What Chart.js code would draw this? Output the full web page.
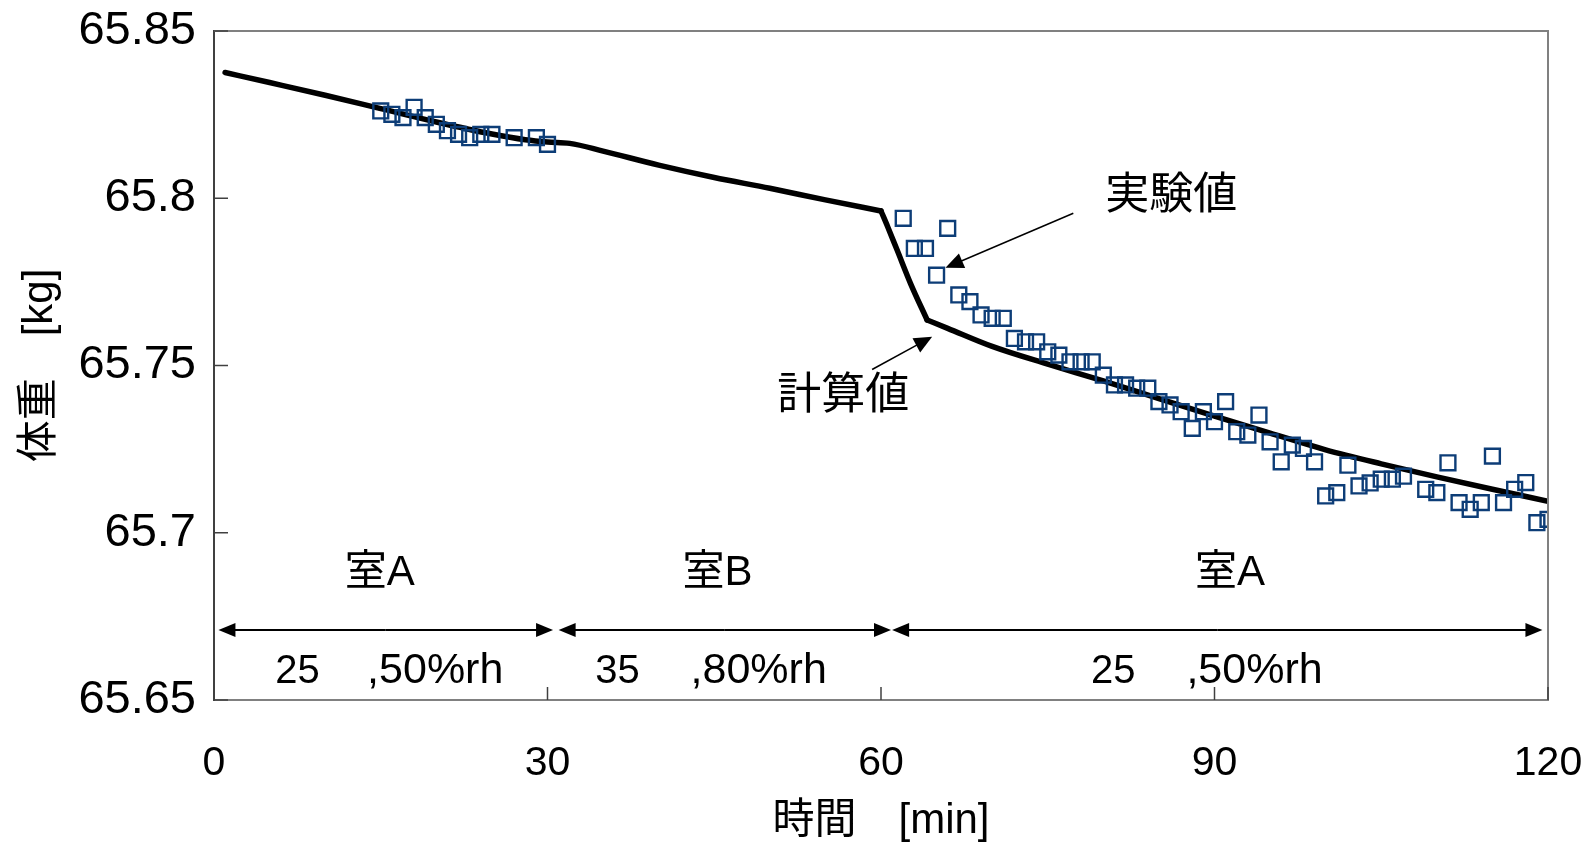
<!DOCTYPE html>
<html lang="ja">
<head>
<meta charset="utf-8">
<title>体重の変化</title>
<script src="https://cdn.jsdelivr.net/npm/chart.js@4.4.1/dist/chart.umd.min.js"></script>
<style>
  html, body { margin: 0; padding: 0; background: #fff; }
  canvas { display: block; }
</style>
</head>
<body>
<canvas id="weightChart" width="1588" height="847"></canvas>
<script>
// 計算値 (simulated body weight)
const calcTime = [1, 5, 10, 15, 20, 25, 28, 30, 32, 35, 40, 45, 50, 55, 60,
    60.6, 61.45, 62.66, 64.15, 66, 70, 75, 80, 85, 90, 95, 100, 105, 110, 115, 120];
const calcWeight = [65.8376, 65.8346, 65.8308, 65.8268, 65.8228, 65.8192, 65.8175, 65.8168, 65.8164, 65.8141,
    65.8099, 65.8062, 65.8030, 65.7995, 65.7962,
    65.7915, 65.7845, 65.7745, 65.7636, 65.7611, 65.7557, 65.7504, 65.7454, 65.7401, 65.7349,
    65.7298, 65.7248, 65.7206, 65.7167, 65.7130, 65.7094];
// the calculated curve has corners where the room changes (60 min) and where it settles (64 min)
const calcBreaks = [0, 14, 18, calcTime.length - 1];

// 実験値 (measured body weight)
const measTime = [15, 16, 17, 18, 19, 20, 21, 22, 23, 24, 25, 27, 29, 30,
    62, 63, 64, 65, 66, 67, 68, 69, 70, 71, 72, 73, 74, 75, 76, 77, 78, 79, 80,
    81, 82, 83, 84, 85, 86, 87, 88, 89, 90, 91, 92, 93, 94, 95, 96, 97, 98, 99, 100,
    101, 102, 103, 104, 105, 106, 107, 109, 110, 111, 112, 113, 114, 115, 116, 117, 118, 119, 120];
const measWeight = [65.8261, 65.8251, 65.8241, 65.8272, 65.8241, 65.8221, 65.8202, 65.8191, 65.8181, 65.8191,
    65.8191, 65.8181, 65.8181, 65.8161,
    65.7940, 65.7850, 65.7850, 65.7770, 65.7910, 65.7711, 65.7691, 65.7651, 65.7641, 65.7641,
    65.7581, 65.7571, 65.7571, 65.7541, 65.7531, 65.7511, 65.7511, 65.7511, 65.7471,
    65.7442, 65.7442, 65.7432, 65.7432, 65.7392, 65.7382, 65.7362, 65.7312, 65.7362, 65.7332,
    65.7392, 65.7302, 65.7292, 65.7352, 65.7272, 65.7212, 65.7262, 65.7252, 65.7212, 65.7110,
    65.7120, 65.7202, 65.7140, 65.7149, 65.7160, 65.7160, 65.7169, 65.7130, 65.7120, 65.7209,
    65.7090, 65.7070, 65.7090, 65.7229, 65.7090, 65.7130, 65.7150, 65.7030, 65.7040];

const xTicks = [0, 30, 60, 90, 120];
const yTicks = [65.65, 65.7, 65.75, 65.8, 65.85];

// room periods along the bottom of the plot
const roomNames = ['室A', '室B', '室A'];
const roomStart = [0.4, 31.0, 61.0];
const roomEnd = [30.5, 60.9, 119.5];
const condTemp = ['25', '35', '25'];
const condHum = [',50%rh', ',80%rh', ',50%rh'];

// label / arrow placement in data units
const roomLabelPos = { x: [14.9, 45.3, 91.4], y: 65.6877 };
const rangeArrowY = 65.6709;
const condPos = { temp: [7.5, 36.3, 80.9], hum: [19.9, 49.0, 93.6], y: 65.6585 };
const callouts = [
    { text: '実験値', tx: 86.1, ty: 65.8005, from: [77.3, 65.7955], to: [65.8, 65.7792] },
    { text: '計算値', tx: 56.6, ty: 65.7407, from: [59.2, 65.7488], to: [64.6, 65.7586] }
];

const jpFont = "'Liberation Sans', 'Noto Sans CJK JP', sans-serif";

function arrowHead(ctx, x0, y0, x1, y1, len, half) {
    const a = Math.atan2(y1 - y0, x1 - x0);
    const bx = x1 - len * Math.cos(a), by = y1 - len * Math.sin(a);
    ctx.beginPath();
    ctx.moveTo(x1, y1);
    ctx.lineTo(bx + half * Math.sin(a), by - half * Math.cos(a));
    ctx.lineTo(bx - half * Math.sin(a), by + half * Math.cos(a));
    ctx.closePath();
    ctx.fill();
}

function arrowLine(ctx, x0, y0, x1, y1, len, half) {
    const a = Math.atan2(y1 - y0, x1 - x0);
    ctx.beginPath();
    ctx.moveTo(x0, y0);
    ctx.lineTo(x1 - (len - 2) * Math.cos(a), y1 - (len - 2) * Math.sin(a));
    ctx.stroke();
    arrowHead(ctx, x0, y0, x1, y1, len, half);
}

// frame, inward ticks, room arrows and callouts
const annotate = {
    id: 'annotate',
    afterDatasetsDraw(chart) {
        const { ctx, chartArea: a, scales: { x, y } } = chart;
        ctx.save();

        ctx.strokeStyle = '#808080';
        ctx.lineWidth = 2;
        ctx.beginPath();
        ctx.moveTo(a.left, a.top);
        ctx.lineTo(a.right, a.top);
        ctx.lineTo(a.right, a.bottom);
        ctx.stroke();

        ctx.strokeStyle = '#404040';
        ctx.lineWidth = 1.5;
        yTicks.forEach(v => {
            const py = y.getPixelForValue(v);
            ctx.beginPath(); ctx.moveTo(a.left, py); ctx.lineTo(a.left + 14, py); ctx.stroke();
        });
        xTicks.forEach(v => {
            const px = x.getPixelForValue(v);
            ctx.beginPath(); ctx.moveTo(px, a.bottom); ctx.lineTo(px, a.bottom - 13); ctx.stroke();
        });

        ctx.fillStyle = '#000';
        ctx.strokeStyle = '#000';
        ctx.textAlign = 'center';
        ctx.textBaseline = 'middle';

        // room ranges
        const ay = y.getPixelForValue(rangeArrowY);
        ctx.lineWidth = 2;
        roomNames.forEach((name, i) => {
            const x0 = x.getPixelForValue(roomStart[i]);
            const x1 = x.getPixelForValue(roomEnd[i]);
            const mid = (x0 + x1) / 2;
            arrowLine(ctx, mid, ay, x1, ay, 17, 7);
            arrowLine(ctx, mid, ay, x0, ay, 17, 7);

            ctx.font = '42px ' + jpFont;
            ctx.fillText(name, x.getPixelForValue(roomLabelPos.x[i]), y.getPixelForValue(roomLabelPos.y));
            const cy = y.getPixelForValue(condPos.y);
            ctx.font = '40px ' + jpFont;
            ctx.fillText(condTemp[i], x.getPixelForValue(condPos.temp[i]), cy);
            ctx.font = '43px ' + jpFont;
            ctx.fillText(condHum[i], x.getPixelForValue(condPos.hum[i]), cy);
        });

        // callouts
        ctx.lineWidth = 1.5;
        callouts.forEach(c => {
            ctx.font = '44px ' + jpFont;
            ctx.fillText(c.text, x.getPixelForValue(c.tx), y.getPixelForValue(c.ty));
            arrowLine(ctx,
                x.getPixelForValue(c.from[0]), y.getPixelForValue(c.from[1]),
                x.getPixelForValue(c.to[0]), y.getPixelForValue(c.to[1]), 18, 8);
        });

        ctx.restore();
    }
};

// one dataset per smooth piece of the calculated curve
const calcPieces = calcBreaks.slice(0, -1).map((start, k) => ({
    label: '計算値',
    data: calcTime.slice(start, calcBreaks[k + 1] + 1)
        .map((t, i) => ({ x: t, y: calcWeight[start + i] })),
    showLine: true,
    borderColor: '#000',
    borderWidth: 5.5,
    borderCapStyle: 'round',
    borderJoinStyle: 'round',
    pointRadius: 0,
    cubicInterpolationMode: 'monotone',
    order: 1
}));

new Chart(document.getElementById('weightChart'), {
    type: 'scatter',
    data: {
        datasets: [
            {
                label: '実験値',
                data: measTime.map((t, i) => ({ x: t, y: measWeight[i] })),
                pointStyle: 'rect',
                pointRadius: 10.5,
                pointBorderWidth: 2.4,
                borderColor: '#0d3d77',
                backgroundColor: 'rgba(0,0,0,0)',
                showLine: false,
                order: 0
            },
            ...calcPieces
        ]
    },
    options: {
        responsive: false,
        animation: false,
        layout: { padding: { left: 0, right: 40, top: 31, bottom: 0 } },
        plugins: {
            legend: { display: false },
            tooltip: { enabled: false }
        },
        scales: {
            x: {
                type: 'linear',
                min: 0,
                max: 120,
                afterBuildTicks: s => { s.ticks = xTicks.map(v => ({ value: v })); },
                afterFit: s => { s.height = 147; s.paddingLeft = 0; s.paddingRight = 0; },
                grid: { display: true, drawOnChartArea: false, drawTicks: false },
                border: { color: '#808080', width: 2 },
                ticks: {
                    color: '#000',
                    padding: 39,
                    maxRotation: 0,
                    font: { family: 'Liberation Sans', size: 41 }
                },
                title: {
                    display: true,
                    text: '時間　[min]',
                    color: '#000',
                    padding: { top: 0, bottom: 0 },
                    font: { family: jpFont, size: 42 }
                }
            },
            y: {
                min: 65.65,
                max: 65.85,
                afterBuildTicks: s => { s.ticks = yTicks.map(v => ({ value: v })); },
                afterFit: s => { s.width = 214; s.paddingTop = 0; s.paddingBottom = 0; },
                grid: { display: true, drawOnChartArea: false, drawTicks: false },
                border: { color: '#404040', width: 2 },
                ticks: {
                    color: '#000',
                    padding: 18,
                    font: { family: 'Liberation Sans', size: 47 },
                    callback: v => String(v)
                },
                title: {
                    display: true,
                    text: '体重　[kg]',
                    color: '#000',
                    padding: { top: 15, bottom: 0 },
                    font: { family: jpFont, size: 42 }
                }
            }
        }
    },
    plugins: [annotate]
});
</script>
</body>
</html>
